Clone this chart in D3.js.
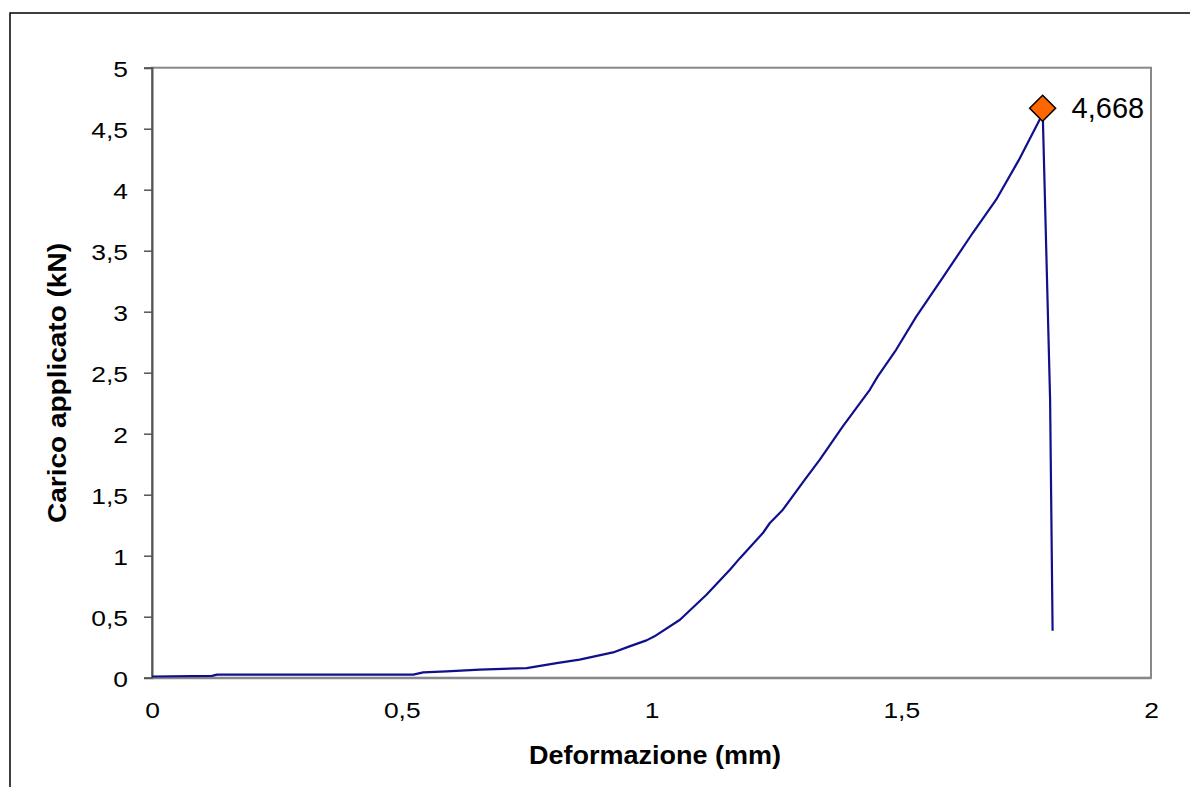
<!DOCTYPE html>
<html>
<head>
<meta charset="utf-8">
<script src="https://cdn.jsdelivr.net/npm/d3@7"></script>
<style>
  html, body { margin: 0; padding: 0; background: #fff; }
  svg { display: block; font-family: "Liberation Sans", Arial, sans-serif; }
</style>
</head>
<body>
<svg id="chart" width="1190" height="787"></svg>
<script>
// Data
const deformation = [0, 0.12, 0.13, 0.3, 0.456, 0.523, 0.543, 0.59, 0.656, 0.75, 0.81, 0.856, 0.923, 0.956, 0.99, 1.006, 1.057, 1.11, 1.157, 1.177, 1.223, 1.237, 1.263, 1.307, 1.337, 1.383, 1.437, 1.453, 1.49, 1.53, 1.58, 1.643, 1.69, 1.735, 1.777, 1.783, 1.798, 1.803];
const load = [0.01, 0.015, 0.025, 0.025, 0.025, 0.025, 0.044, 0.052, 0.066, 0.079, 0.12, 0.148, 0.207, 0.257, 0.306, 0.339, 0.475, 0.68, 0.885, 0.98, 1.186, 1.268, 1.377, 1.623, 1.787, 2.06, 2.36, 2.47, 2.69, 2.96, 3.26, 3.645, 3.918, 4.24, 4.574, 4.668, 2.28, 0.385];
const peakX = [1.783];
const peakY = [4.668];
const peakLabel = ["4,668"];
const xTicks = [0, 0.5, 1, 1.5, 2];
const yTicks = [0, 0.5, 1, 1.5, 2, 2.5, 3, 3.5, 4, 4.5, 5];
const xTitle = "Deformazione (mm)";
const yTitle = "Carico applicato (kN)";

const svg = d3.select("#chart");
const fmt = v => String(v).replace(".", ",");
const FONT = "Liberation Sans, Arial, sans-serif";

// outer chart border
svg.append("rect").attr("x", 10).attr("y", 13).attr("width", 1200).attr("height", 800)
  .attr("fill", "none").attr("stroke", "#000").attr("stroke-width", 1.5);

const L = 152, R = 1151, T = 67.7, B = 677.7;
const x = d3.scaleLinear().domain([0, 2]).range([L, R]);
const y = d3.scaleLinear().domain([0, 5]).range([B, T]);

// plot frame
svg.append("rect").attr("x", L).attr("y", T).attr("width", R - L).attr("height", B - T)
  .attr("fill", "none").attr("stroke", "#888").attr("stroke-width", 2);

// Y axis
const yAxis = svg.append("g").attr("transform", `translate(${L},0)`)
  .call(d3.axisLeft(y).tickValues(yTicks).tickFormat(fmt).tickSize(8).tickPadding(16));
yAxis.select(".domain").attr("stroke", "#555").attr("stroke-width", 2);
yAxis.selectAll(".tick line").attr("stroke", "#555").attr("stroke-width", 1.5);
yAxis.selectAll(".tick text").attr("font-size", 22).attr("fill", "#000")
  .attr("font-family", FONT)
  .attr("x", 0).attr("dy", null).attr("dominant-baseline", "central")
  .attr("transform", "translate(-24,1.5) scale(1.2,1)");

// X axis (labels only)
const xAxis = svg.append("g").attr("transform", `translate(0,${B})`)
  .call(d3.axisBottom(x).tickValues(xTicks).tickFormat(fmt).tickSize(0));
xAxis.select(".domain").attr("stroke", "#888").attr("stroke-width", 2);
xAxis.selectAll(".tick text").attr("font-size", 22).attr("fill", "#000")
  .attr("font-family", FONT)
  .attr("y", 0).attr("dy", null).attr("dominant-baseline", "central")
  .attr("transform", "translate(0,32.5) scale(1.2,1)");

// titles
svg.append("text").attr("transform", "translate(655,755) scale(1.08,1)").attr("text-anchor", "middle")
  .attr("dominant-baseline", "central").attr("font-size", 25).attr("font-weight", "bold")
  .text(xTitle);
svg.append("text").attr("transform", "translate(58,383) rotate(-90) scale(1.12,1)").attr("text-anchor", "middle")
  .attr("dominant-baseline", "central").attr("font-size", 25).attr("font-weight", "bold")
  .text(yTitle);

// curve
const pts = deformation.map((d, i) => [d, load[i]]);
svg.append("path").datum(pts)
  .attr("d", d3.line().x(d => x(d[0])).y(d => y(d[1])))
  .attr("fill", "none").attr("stroke", "#10108c").attr("stroke-width", 2.2)
  .attr("stroke-linejoin", "round");

// peak marker
const s = 13;
peakX.forEach((px, i) => {
  const cx = x(px), cy = y(peakY[i]);
  svg.append("path")
    .attr("d", `M${cx},${cy - s}L${cx + s},${cy}L${cx},${cy + s}L${cx - s},${cy}Z`)
    .attr("fill", "#ff6600").attr("stroke", "#000").attr("stroke-width", 1.5);
  svg.append("text").attr("x", cx + 29).attr("y", cy).attr("dominant-baseline", "central")
    .attr("font-size", 29).text(peakLabel[i]);
});
</script>
</body>
</html>
